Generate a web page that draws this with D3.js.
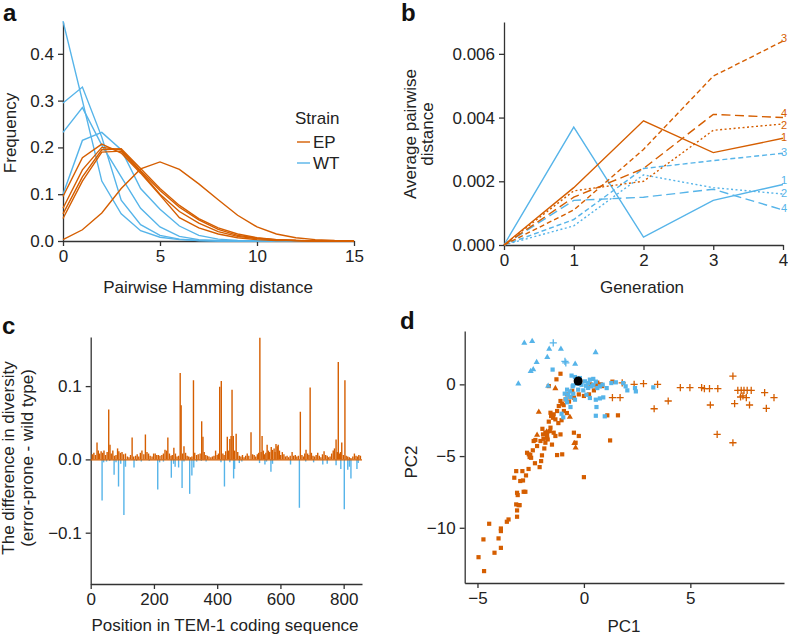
<!DOCTYPE html>
<html><head><meta charset="utf-8">
<script src="https://cdn.jsdelivr.net/npm/d3@7"></script>
<style>
body{margin:0;background:#fff;}
svg{display:block;font-family:"Liberation Sans",Arial,Helvetica,sans-serif;}
.axis path,.axis line{stroke:#333;stroke-width:1.3px;}
.axis text{font-size:17px;fill:#222;font-family:"Liberation Sans",Arial,sans-serif;}
</style></head>
<body>
<svg id="chart" width="788" height="636"></svg>
<script>
const ORANGE = "#D55E00", BLUE = "#56B4E9";

// ---------- Panel a data ----------
const hammingDist = d3.range(0, 16);
const epFreqA = [0.095,0.178,0.207,0.188,0.145,0.098,0.050,0.028,0.015,0.007,0.003,0.001,0.001,0,0,0];
const epFreqB = [0.070,0.152,0.200,0.195,0.150,0.108,0.072,0.045,0.025,0.012,0.006,0.003,0.001,0,0,0];
const epFreqC = [0.058,0.137,0.195,0.197,0.155,0.112,0.076,0.048,0.028,0.015,0.007,0.003,0.001,0,0,0];
const epFreqD = [0.048,0.128,0.190,0.192,0.148,0.100,0.063,0.038,0.020,0.010,0.005,0.002,0.001,0,0,0];
const epFreqE = [0.003,0.024,0.060,0.112,0.154,0.169,0.153,0.122,0.088,0.055,0.030,0.015,0.007,0.003,0.001,0];
const wtFreqA = [0.470,0.300,0.128,0.058,0.022,0.008,0.003,0.001,0,0,0,0,0,0,0,0];
const wtFreqB = [0.295,0.329,0.222,0.087,0.035,0.012,0.004,0.001,0,0,0,0,0,0,0,0];
const wtFreqC = [0.232,0.285,0.205,0.137,0.070,0.030,0.010,0.003,0.001,0,0,0,0,0,0,0];
const wtFreqD = [0.100,0.215,0.232,0.195,0.112,0.068,0.032,0.012,0.004,0.001,0,0,0,0,0,0];
const freqTicks = [0, 0.1, 0.2, 0.3, 0.4];
const hammingTicks = [0, 5, 10, 15];

// ---------- Panel b data ----------
const generations = [0, 1, 2, 3, 4];
const ep1 = [0, 0.0018, 0.0039, 0.0029, 0.00335];
const ep2 = [0, 0.0017, 0.0020, 0.0036, 0.0038];
const ep3 = [0, 0.0011, 0.0030, 0.0053, 0.0064];
const ep4 = [0, 0.0015, 0.0024, 0.0041, 0.0040];
const wt1 = [0, 0.0037, 0.00025, 0.0014, 0.0019];
const wt2 = [0, 0.0006, 0.0022, 0.0018, 0.0016];
const wt3 = [0, 0.0008, 0.0024, 0.00265, 0.00288];
const wt4 = [0, 0.0014, 0.0015, 0.00175, 0.0011];
const distTicks = [0, 0.002, 0.004, 0.006];

// ---------- Panel c data: [position, difference] ----------
const diffPositive = [[5,0.007],[10,0.009],[15,0.006],[20,0.023],[24,0.012],[28,0.008],[33,0.011],[38,0.009],[42,0.012],[47,0.006],[52,0.010],[57,0.068],[61,0.020],[65,0.008],[70,0.012],[75,0.005],[80,0.006],[85,0.015],[89,0.011],[94,0.009],[99,0.010],[104,0.007],[110,0.008],[116,0.004],[121,0.003],[126,0.006],[131,0.030],[136,0.004],[142,0.005],[147,0.007],[152,0.004],[157,0.009],[162,0.012],[168,0.007],[173,0.034],[178,0.010],[183,0.008],[188,0.005],[194,0.004],[199,0.008],[204,0.008],[209,0.006],[214,0.006],[219,0.005],[225,0.006],[230,0.008],[235,0.013],[240,0.012],[244,0.030],[249,0.008],[254,0.005],[258,0.006],[263,0.016],[268,0.008],[273,0.004],[278,0.005],[283,0.118],[286,0.074],[291,0.008],[295,0.018],[300,0.009],[305,0.005],[310,0.004],[315,0.003],[320,0.004],[325,0.108],[329,0.009],[335,0.006],[340,0.007],[346,0.008],[351,0.052],[355,0.031],[359,0.010],[364,0.006],[369,0.005],[374,0.004],[380,0.003],[385,0.004],[390,0.005],[395,0.012],[400,0.006],[404,0.008],[408,0.099],[413,0.107],[418,0.008],[422,0.006],[427,0.011],[432,0.031],[436,0.012],[440,0.028],[444,0.032],[447,0.095],[451,0.032],[455,0.012],[460,0.035],[465,0.010],[470,0.005],[475,0.004],[480,0.006],[485,0.003],[490,0.005],[495,0.008],[500,0.005],[507,0.037],[512,0.007],[517,0.006],[522,0.004],[527,0.007],[531,0.009],[535,0.166],[539,0.010],[542,0.032],[546,0.012],[550,0.007],[554,0.009],[558,0.020],[562,0.012],[566,0.010],[571,0.017],[575,0.013],[580,0.015],[583,0.010],[586,0.021],[590,0.018],[593,0.020],[597,0.012],[601,0.006],[606,0.010],[611,0.007],[616,0.004],[621,0.005],[626,0.003],[631,0.005],[637,0.010],[642,0.005],[647,0.006],[652,0.004],[657,0.005],[663,0.065],[668,0.006],[673,0.004],[677,0.008],[681,0.013],[686,0.008],[690,0.006],[694,0.098],[698,0.009],[703,0.005],[708,0.004],[713,0.006],[718,0.009],[723,0.005],[728,0.003],[733,0.007],[738,0.011],[743,0.006],[748,0.005],[752,0.003],[757,0.004],[762,0.008],[767,0.012],[771,0.015],[776,0.027],[780,0.010],[783,0.133],[787,0.008],[790,0.010],[794,0.023],[799,0.006],[804,0.108],[808,0.005],[813,0.004],[818,0.003],[823,0.002],[829,0.004],[834,0.008],[839,0.005],[844,0.004],[848,0.006],[853,0.005]];
const diffNegative = [[36,-0.056],[41,-0.004],[50,-0.003],[60,-0.002],[74,-0.021],[80,-0.004],[88,-0.037],[95,-0.006],[105,-0.076],[110,-0.010],[137,-0.011],[145,-0.002],[160,-0.003],[185,-0.002],[212,-0.041],[218,-0.004],[230,-0.003],[255,-0.025],[262,-0.006],[267,-0.010],[278,-0.011],[289,-0.039],[295,-0.003],[313,-0.047],[320,-0.022],[326,-0.011],[335,-0.003],[350,-0.002],[365,-0.003],[412,-0.004],[423,-0.037],[440,-0.004],[452,-0.026],[455,-0.013],[470,-0.005],[478,-0.003],[534,-0.005],[551,-0.007],[556,-0.003],[570,-0.017],[575,-0.006],[632,-0.007],[660,-0.066],[680,-0.003],[705,-0.004],[734,-0.007],[748,-0.006],[776,-0.008],[791,-0.013],[802,-0.068],[813,-0.014],[818,-0.010],[823,-0.026],[842,-0.013],[846,-0.005]];
const positionTicks = [0, 200, 400, 600, 800];
const diffTicks = [-0.1, 0, 0.1];

// ---------- Panel d data: [PC1, PC2] ----------
const epSquares = [[-4.95,-12.05],[-4.69,-13.02],[-4.72,-10.81],[-4.45,-9.72],[-4.20,-11.74],[-4.01,-10.74],[-3.90,-11.40],[-3.90,-10.23],[-3.90,-10.05],[-3.62,-9.58],[-3.54,-9.42],[-3.27,-6.51],[-3.18,-6.05],[-3.14,-7.56],[-3.18,-8.37],[-3.14,-8.79],[-3.14,-9.23],[-3.11,-7.72],[-3.07,-8.42],[-3.02,-8.42],[-2.99,-6.74],[-2.89,-6.05],[-2.86,-6.70],[-2.83,-7.49],[-2.75,-7.49],[-2.72,-6.35],[-2.67,-4.77],[-2.59,-4.88],[-2.55,-5.07],[-2.52,-4.93],[-2.48,-5.12],[-2.36,-3.95],[-2.28,-3.88],[-2.08,-5.77],[-2.01,-5.35],[-1.97,-4.95],[-1.86,-4.47],[-1.81,-3.37],[-1.73,-3.53],[-1.70,-3.84],[-1.81,-4.07],[-1.60,-3.26],[-1.57,-3.02],[-1.54,-2.21],[-1.45,-2.33],[-1.34,-2.44],[-1.42,-3.37],[-1.34,-3.60],[-1.26,-4.93],[-1.10,-3.49],[-1.02,-4.88],[-1.18,-1.51],[-1.10,-1.16],[-1.02,-1.35],[-0.86,-1.05],[-0.79,-0.70],[-0.63,-0.88],[-0.47,-0.93],[-0.24,-0.70],[-0.47,-3.37],[-0.39,-4.07],[-0.24,-3.60],[0.00,-6.47],[1.23,-3.91],[1.10,-2.16],[1.60,-2.16],[1.34,0.19],[0.86,-0.12],[-1.10,0.74],[-1.29,0.35],[-1.65,-0.12],[0.47,-0.42],[0.24,-0.70],[0.00,-0.81],[0.63,0.12],[0.79,0.00],[0.31,0.00],[-1.57,-1.98],[-1.42,-2.09],[-1.26,-1.86],[-0.94,-1.86],[-1.73,-3.72],[-1.92,-3.49],[-2.04,-3.95],[-1.95,-3.10],[-1.65,-2.60],[-1.20,-2.70],[-0.95,-1.45],[-0.70,-1.20],[-0.55,-0.45],[-2.20,-4.30],[-2.40,-4.60],[-1.50,-4.20],[-1.90,-3.80],[-2.60,-5.90],[-2.30,-5.50],[-0.80,-2.00],[-1.05,-2.50]];
const epTriangles = [[-2.12,-1.93],[-2.20,-3.53],[-1.34,-0.28],[-0.66,-2.28],[-0.39,-4.42],[-0.45,-4.10],[0.60,-0.10],[-1.75,-3.30]];
const epPluses = [[1.34,-0.93],[1.70,-0.93],[2.36,0.00],[2.80,0.05],[3.46,0.00],[3.30,-1.70],[3.96,-1.16],[4.53,-0.23],[4.98,-0.23],[5.53,-0.23],[5.66,-0.30],[5.90,-0.30],[6.29,-0.30],[5.94,-1.44],[6.26,-3.49],[7.00,0.58],[7.08,-1.35],[7.00,-4.07],[7.23,-0.42],[7.39,-0.42],[7.52,-0.42],[7.67,-0.42],[7.86,-0.42],[7.36,-0.88],[7.47,-0.81],[7.63,-0.93],[7.78,-1.44],[8.49,-0.58],[8.93,-0.93],[8.57,-1.67],[1.80,0.10]];
const wtSquares = [[-1.47,1.03],[-0.58,0.61],[-0.42,0.51],[-0.19,0.44],[0.05,0.21],[0.28,0.33],[0.44,0.38],[0.56,0.19],[0.36,-0.14],[0.20,-0.25],[-0.03,-0.42],[-0.27,-0.37],[-0.50,-0.65],[-0.74,-0.72],[-0.85,-1.02],[-0.79,-1.25],[-0.63,-0.88],[-0.42,-1.07],[0.12,-0.72],[0.28,-0.95],[0.56,-1.07],[0.75,-0.98],[0.91,-0.91],[1.07,-0.26],[0.88,-0.02],[0.75,-0.14],[1.29,0.09],[1.50,0.14],[1.85,0.09],[1.96,-0.14],[2.04,-0.42],[2.40,-0.26],[2.44,-0.49],[3.26,-0.21],[0.59,-1.58],[0.56,-2.19],[0.98,-2.23],[-0.97,-2.30],[-1.05,-2.05],[-0.63,-1.58],[-0.50,-0.07],[-0.35,0.05],[-0.53,-0.14],[-0.11,-0.03],[0.44,-0.03],[0.63,-0.26],[0.20,0.09],[-0.79,-0.37],[-0.66,-0.49],[-0.20,0.05],[0.10,-0.10],[-0.90,-0.65]];
const wtTriangles = [[-2.80,2.89],[-2.43,3.00],[-1.63,2.47],[-1.08,2.47],[0.55,2.23],[-2.22,1.54],[-1.72,1.89],[-2.38,1.03],[-2.50,0.91],[-3.08,0.05],[-1.68,-0.11],[-0.41,1.42]];
const wtPluses = [[-1.44,2.89],[-0.89,1.60],[-0.85,1.50]];
const ancestor = [[-0.27, 0.23]];
const pc1Ticks = [-5, 0, 5];
const pc2Ticks = [-10, -5, 0];

// ---------- drawing ----------
const svg = d3.select("#chart");
const FS = 17;

function panelLetter(t, x, y){
  svg.append("text").attr("x", x).attr("y", y).text(t)
    .attr("font-size", 24).attr("font-weight", "bold").attr("fill", "#111");
}
function axes(g, x, y, xt, yt, xfmt, yfmt){
  g.append("g").attr("class","axis").attr("transform",`translate(0,${y.range()[0]})`)
    .call(d3.axisBottom(x).tickValues(xt).tickSize(5).tickSizeOuter(0).tickPadding(4).tickFormat(xfmt));
  g.append("g").attr("class","axis").attr("transform",`translate(${x.range()[0]},0)`)
    .call(d3.axisLeft(y).tickValues(yt).tickSize(5).tickSizeOuter(0).tickPadding(4).tickFormat(yfmt));
}
function label(t, x, y, rot){
  const e = svg.append("text").attr("text-anchor","middle").attr("font-size",FS).attr("fill","#222").text(t);
  if (rot) e.attr("transform",`translate(${x},${y}) rotate(-90)`); else e.attr("x",x).attr("y",y);
  return e;
}
const minus = s => s.replace("-", "\u2212");

// Panel a
{
  const g = svg.append("g");
  const x = d3.scaleLinear().domain([0, 15]).range([63, 354]);
  const y = d3.scaleLinear().domain([0, 0.468]).range([241, 22]);
  axes(g, x, y, hammingTicks, freqTicks, d3.format("d"), d3.format(".1f"));
  const line = d3.line().x((d,i)=>x(hammingDist[i])).y(d=>y(d));
  [wtFreqA, wtFreqB, wtFreqC, wtFreqD].forEach(s =>
    g.append("path").attr("d", line(s)).attr("fill","none").attr("stroke",BLUE).attr("stroke-width",1.4));
  [epFreqA, epFreqB, epFreqC, epFreqD, epFreqE].forEach(s =>
    g.append("path").attr("d", line(s)).attr("fill","none").attr("stroke",ORANGE).attr("stroke-width",1.4));
  label("Pairwise Hamming distance", 208, 293);
  label("Frequency", 16, 133, true);
  svg.append("text").attr("x",295).attr("y",124).attr("font-size",FS).attr("fill","#222").text("Strain");
  [["EP",ORANGE,142],["WT",BLUE,163]].forEach(([t,c,yy])=>{
    svg.append("line").attr("x1",297).attr("x2",310).attr("y1",yy).attr("y2",yy).attr("stroke",c).attr("stroke-width",1.4);
    svg.append("text").attr("x",313).attr("y",yy+6).attr("font-size",FS).attr("fill","#222").text(t);
  });
  panelLetter("a", 3, 21);
}

// Panel b
{
  const g = svg.append("g");
  const x = d3.scaleLinear().domain([0, 4]).range([504, 783]);
  const y = d3.scaleLinear().domain([0, 0.007]).range([245, 22]);
  axes(g, x, y, generations, distTicks, d3.format("d"), d3.format(".3f"));
  const line = d3.line().x((d,i)=>x(generations[i])).y(d=>y(d));
  const dashes = [null, "2,2.5", "5,3", "9,4.5"];
  // [series, colour, label, vertical nudge of the end label]
  const series = [[wt1,BLUE,"1",0],[wt2,BLUE,"2",3],[wt3,BLUE,"3",3],[wt4,BLUE,"4",2],
                  [ep1,ORANGE,"1",3],[ep2,ORANGE,"2",5],[ep3,ORANGE,"3",1],[ep4,ORANGE,"4",-1]];
  series.forEach(([s,c,n,dy])=>{
    const p = g.append("path").attr("d", line(s)).attr("fill","none").attr("stroke",c).attr("stroke-width",1.4);
    const da = dashes[+n-1]; if (da) p.attr("stroke-dasharray", da);
    g.append("text").attr("x", 787).attr("y", y(s[4]) + dy).attr("text-anchor","end")
      .attr("font-size", 11).attr("fill", c).text(n);
  });
  label("Generation", 642, 293);
  label("Average pairwise", 416, 134, true);
  label("distance", 433, 134, true);
  panelLetter("b", 401, 21);
}

// Panel c
{
  const g = svg.append("g");
  const x = d3.scaleLinear().domain([0, 858]).range([90.7, 362]);
  const y = d3.scaleLinear().domain([-0.17, 0.167]).range([584, 337]);
  axes(g, x, y, positionTicks, diffTicks, d3.format("d"), v => minus(d3.format(".1f")(v)));
  g.selectAll(".neg").data(diffNegative).join("line")
    .attr("x1", d=>x(d[0])).attr("x2", d=>x(d[0])).attr("y1", y(0)).attr("y2", d=>y(d[1]))
    .attr("stroke", BLUE).attr("stroke-width", 1.4);
  g.selectAll(".pos").data(diffPositive).join("line")
    .attr("x1", d=>x(d[0])).attr("x2", d=>x(d[0])).attr("y1", y(0)).attr("y2", d=>y(d[1]))
    .attr("stroke", ORANGE).attr("stroke-width", 1.4);
  g.append("line").attr("x1", x(0)).attr("x2", x(858)).attr("y1", y(0)+0.5).attr("y2", y(0)+0.5)
    .attr("stroke", ORANGE).attr("stroke-width", 1.3);
  label("Position in TEM-1 coding sequence", 225, 631);
  label("The difference in diversity", 14, 458, true);
  label("(error-prone - wild type)", 33, 458, true);
  panelLetter("c", 2, 334);
}

// Panel d
{
  const g = svg.append("g");
  const x = d3.scaleLinear().domain([-5.6, 9.4]).range([464.7, 784]);
  const y = d3.scaleLinear().domain([-13.85, 3.72]).range([583, 331]);
  axes(g, x, y, pc1Ticks, pc2Ticks, v => minus(d3.format("d")(v)), v => minus(d3.format("d")(v)));
  const tri = d3.symbol().type(d3.symbolTriangle).size(16);
  const plus = "M-3.6,0H3.6M0,-3.6V3.6";
  function squares(data, c){
    g.append("g").selectAll("rect").data(data).join("rect")
      .attr("x", d=>x(d[0])-2.1).attr("y", d=>y(d[1])-2.1).attr("width",4.2).attr("height",4.2).attr("fill", c);
  }
  function triangles(data, c){
    g.append("g").selectAll("path").data(data).join("path")
      .attr("transform", d=>`translate(${x(d[0])},${y(d[1])})`).attr("d", tri).attr("fill", c);
  }
  function pluses(data, c){
    g.append("g").selectAll("path").data(data).join("path")
      .attr("transform", d=>`translate(${x(d[0])},${y(d[1])})`).attr("d", plus)
      .attr("stroke", c).attr("stroke-width", 1.3).attr("fill","none");
  }
  squares(epSquares, ORANGE); triangles(epTriangles, ORANGE); pluses(epPluses, ORANGE);
  squares(wtSquares, BLUE); triangles(wtTriangles, BLUE); pluses(wtPluses, BLUE);
  g.selectAll(".anc").data(ancestor).join("circle")
    .attr("cx", d=>x(d[0])).attr("cy", d=>y(d[1])).attr("r", 4.5).attr("fill", "#000");
  label("PC1", 624, 632);
  label("PC2", 417, 462, true);
  panelLetter("d", 400, 329);
}
</script>
</body></html>
